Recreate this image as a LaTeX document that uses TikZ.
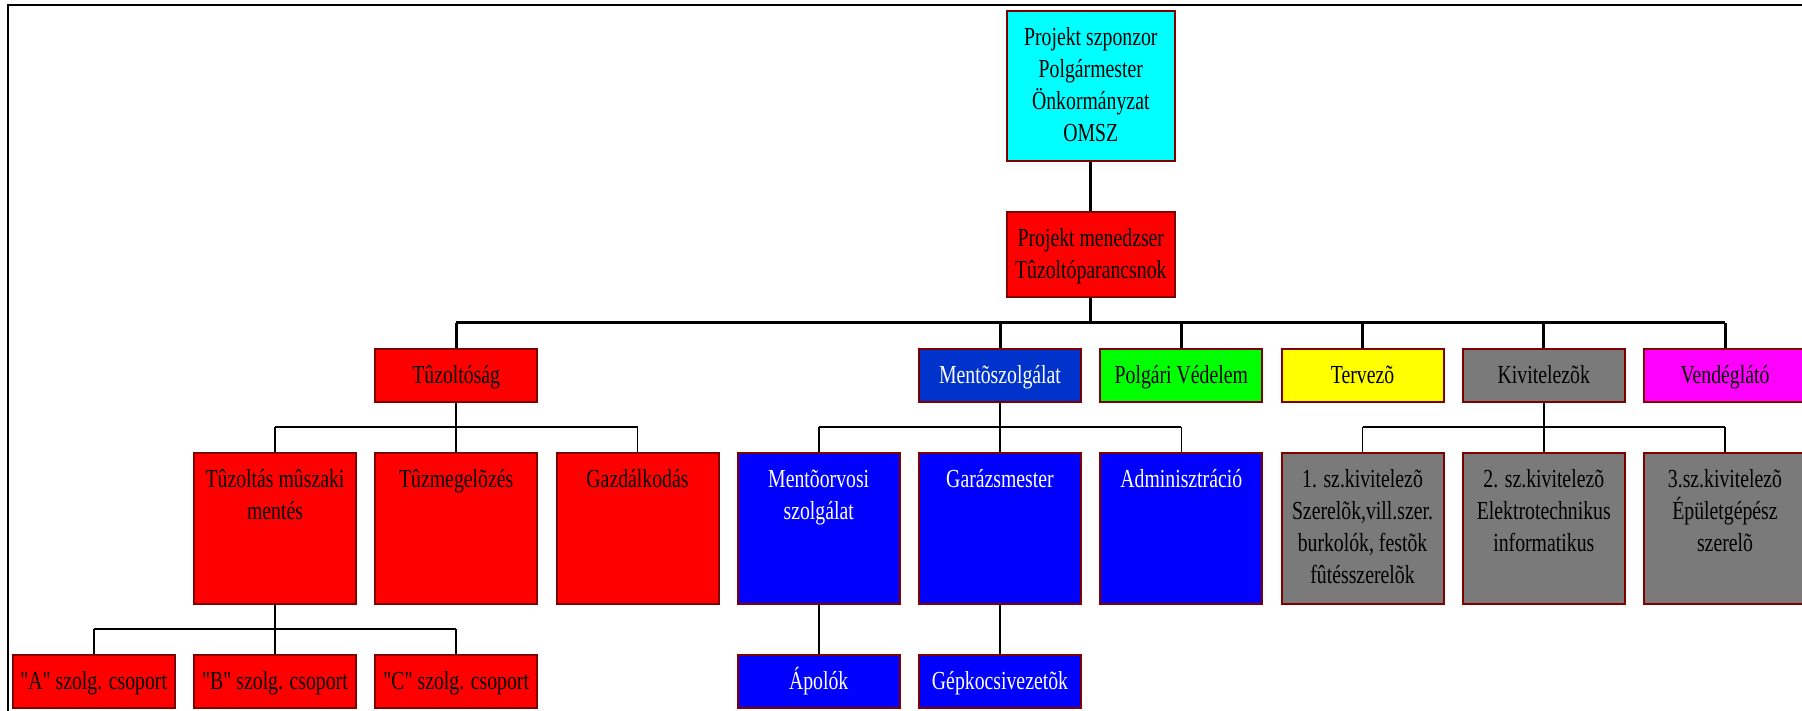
\documentclass[tikz,border=0pt]{standalone}
\usepackage{fontspec}
\setmainfont[FakeStretch=0.76]{Liberation Serif}
\newfontfamily\plainq[FakeStretch=0.76]{Liberation Serif}
\usetikzlibrary{calc}
\definecolor{bord}{HTML}{800000}
\definecolor{cyanbox}{HTML}{00FFFF}
\definecolor{redbox}{HTML}{FF0000}
\definecolor{dblue}{HTML}{0033CC}
\definecolor{bluebox}{HTML}{0000FF}
\definecolor{greenbox}{HTML}{00FF00}
\definecolor{yellowbox}{HTML}{FFFF00}
\definecolor{graybox}{HTML}{7A7A7A}
\definecolor{magbox}{HTML}{FF00FF}
\begin{document}
\begin{tikzpicture}[x=1pt,y=-1pt,
  bx/.style={draw=bord, line width=2pt, minimum width=162pt, inner sep=0pt,
    font=\fontsize{26}{32}\selectfont, align=center, text=black},
  shortbx/.style={bx, minimum height=53pt, text height=18pt, text depth=2pt},
  tallbx/.style={bx, minimum height=150.7pt},
  topbx/.style={bx, minimum width=168pt},
  tt/.style={inner sep=0pt, font=\fontsize{26}{32}\selectfont, align=center, anchor=north},
  bigline/.style={line width=3pt},
  busline/.style={line width=3.5pt},
  midbus/.style={line width=2pt},
  thinline/.style={line width=1.6pt}]
\useasboundingbox (0,0) rectangle (1802,711);
\clip (0,0) rectangle (1802,711);
% frame
\draw[line width=2pt] (8,712) -- (8,5) -- (1803,5);

% top boxes
\node[topbx, fill=cyanbox, minimum height=150pt] (szp) at (1090.8,85.7) {};
\node[tt] (szp-t) at ($(szp.north)+(0,13.4)$) {\strut Projekt szponzor\\Polgármester\\Önkormányzat\\OMSZ};
\node[topbx, fill=redbox, minimum height=85.3pt] (men) at (1090.8,254.7) {};
\node[tt] (men-t) at ($(men.north)+(0,13.1)$) {\strut Projekt menedzser\\Tûzoltóparancsnok};

% level 2
\node[shortbx, fill=redbox] (tuz) at (456.2,375.5) {Tûzoltóság};
\node[shortbx, fill=dblue, text=white] (ment) at (1000.0,375.5) {Mentõszolgálat};
\node[shortbx, fill=greenbox] (polg) at (1181.3,375.5) {Polgári Védelem};
\node[shortbx, fill=yellowbox] (terv) at (1362.5,375.5) {Tervezõ};
\node[shortbx, fill=graybox] (kiv) at (1543.8,375.5) {Kivitelezõk};
\node[shortbx, fill=magbox] (vend) at (1725.0,375.5) {Vendéglátó};

% level 3
\node[tallbx, fill=redbox] (tm) at (275.0,528.7) {};
\node[tallbx, fill=redbox] (tzm) at (456.2,528.7) {};
\node[tallbx, fill=redbox] (gaz) at (637.5,528.7) {};
\node[tallbx, fill=bluebox] (mo) at (818.7,528.7) {};
\node[tallbx, fill=bluebox] (gar) at (1000.0,528.7) {};
\node[tallbx, fill=bluebox] (adm) at (1181.3,528.7) {};
\node[tallbx, fill=graybox] (k1) at (1362.5,528.7) {};
\node[tallbx, fill=graybox] (k2) at (1543.8,528.7) {};
\node[tallbx, fill=graybox] (k3) at (1725.0,528.7) {};

\node[tt] (tm-t) at ($(tm.north)+(0,12.3)$) {\strut Tûzoltás mûszaki\\mentés};
\node[tt] (tzm-t) at ($(tzm.north)+(0,12.3)$) {\strut Tûzmegelõzés};
\node[tt] (gaz-t) at ($(gaz.north)+(0,12.3)$) {\strut Gazdálkodás};
\node[tt, text=white] (mo-t) at ($(mo.north)+(0,12.3)$) {\strut Mentõorvosi\\szolgálat};
\node[tt, text=white] (gar-t) at ($(gar.north)+(0,12.3)$) {\strut Garázsmester};
\node[tt, text=white] (adm-t) at ($(adm.north)+(0,12.3)$) {\strut Adminisztráció};
\node[tt] (k1-t) at ($(k1.north)+(0,12.3)$) {\strut 1. sz.kivitelezõ\\Szerelõk,vill.szer.\\burkolók, festõk\\fûtésszerelõk};
\node[tt] (k2-t) at ($(k2.north)+(0,12.3)$) {\strut 2. sz.kivitelezõ\\Elektrotechnikus\\informatikus};
\node[tt] (k3-t) at ($(k3.north)+(0,12.3)$) {\strut 3.sz.kivitelezõ\\Épületgépész\\szerelõ};

% level 4
\node[shortbx, fill=redbox, font=\fontsize{26}{32}\selectfont\plainq] (ga) at (93.7,681.7) {"A" szolg. csoport};
\node[shortbx, fill=redbox, font=\fontsize{26}{32}\selectfont\plainq] (gb) at (275.0,681.7) {"B" szolg. csoport};
\node[shortbx, fill=redbox, font=\fontsize{26}{32}\selectfont\plainq] (gc) at (456.2,681.7) {"C" szolg. csoport};
\node[shortbx, fill=bluebox, text=white] (apo) at (818.7,681.7) {Ápolók};
\node[shortbx, fill=bluebox, text=white] (gep) at (1000.0,681.7) {Gépkocsivezetõk};

% bus coordinates
\coordinate (busA) at (456.2,322.7);
\coordinate (busB) at (1725.0,322.7);
\coordinate (bt) at (0,427.3);
\coordinate (bl4) at (0,629.3);

% connectors top
\draw[bigline] (szp.south) -- (men.north);
\draw[bigline] (men.south) -- (men.south |- busA);
\draw[busline] (busA) -- (busB);
\foreach \n in {tuz,ment,polg,terv,kiv,vend}
  \draw[bigline] (\n.north) -- (\n.north |- busA);

% level 3 buses
\draw[midbus] (tm.north |- bt) -- (gaz.north |- bt);
\draw[thinline] (tuz.south) -- (tuz.south |- bt);
\foreach \n in {tm,tzm,gaz} \draw[thinline] (\n.north) -- (\n.north |- bt);

\draw[midbus] (mo.north |- bt) -- (adm.north |- bt);
\draw[thinline] (ment.south) -- (ment.south |- bt);
\foreach \n in {mo,gar,adm} \draw[thinline] (\n.north) -- (\n.north |- bt);

\draw[midbus] (k1.north |- bt) -- (k3.north |- bt);
\draw[thinline] (kiv.south) -- (kiv.south |- bt);
\foreach \n in {k1,k2,k3} \draw[thinline] (\n.north) -- (\n.north |- bt);

% level 4
\draw[midbus] (ga.north |- bl4) -- (gc.north |- bl4);
\draw[thinline] (tm.south) -- (tm.south |- bl4);
\foreach \n in {ga,gb,gc} \draw[thinline] (\n.north) -- (\n.north |- bl4);
\draw[thinline] (mo.south) -- (apo.north);
\draw[thinline] (gar.south) -- (gep.north);
\end{tikzpicture}
\end{document}
